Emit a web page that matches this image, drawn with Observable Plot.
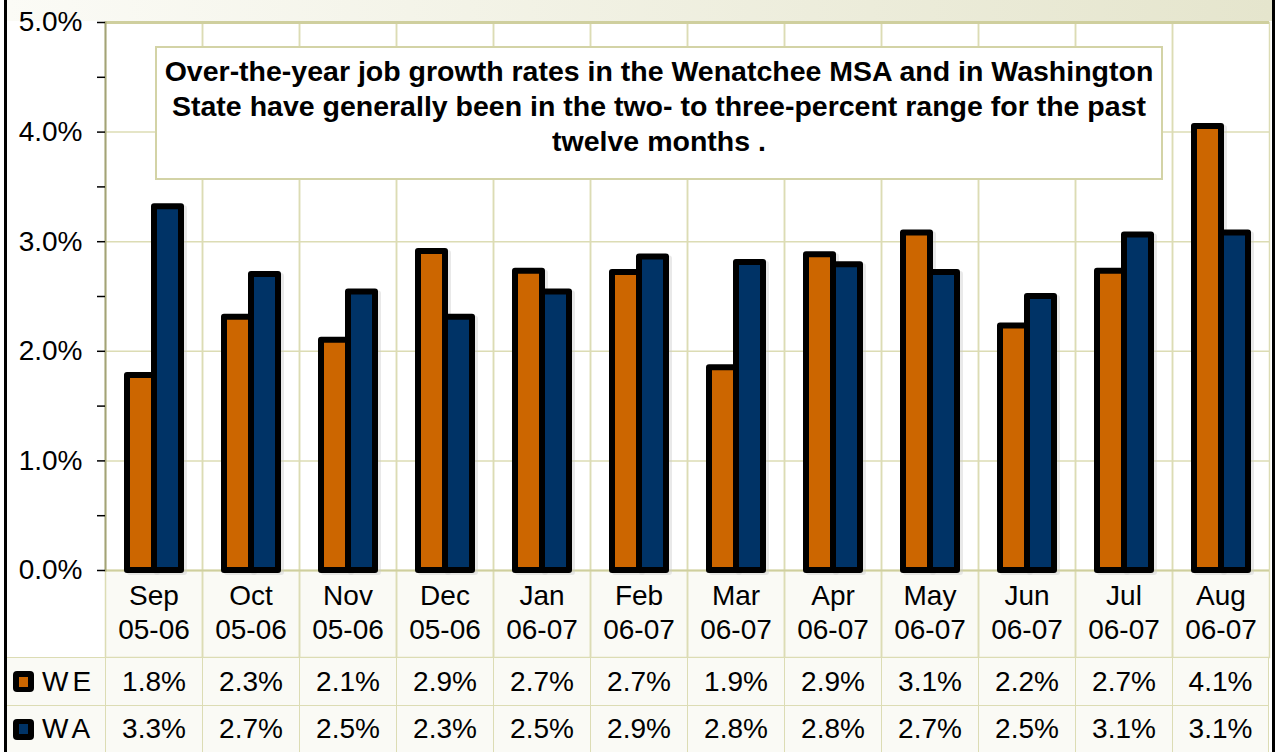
<!DOCTYPE html>
<html>
<head>
<meta charset="utf-8">
<script src="https://cdn.jsdelivr.net/npm/d3@7"></script>
<script src="https://cdn.jsdelivr.net/npm/@observablehq/plot@0.6"></script>
<style>
  body { margin: 0; background: white; }
  #wrap { position: relative; width: 1276px; height: 752px; background: white; overflow: hidden;
          font-family: "Liberation Sans", Arial, sans-serif; color: black; }
  #band { position: absolute; left: 7px; top: 0; width: 1265px; height: 21px;
          background: linear-gradient(to right, #fbfbf6, #e5e5cd); }
  #labelrow { position: absolute; left: 105px; top: 570px; width: 1164px; height: 87px; background: #fafaf5; }
  #chart { position: absolute; left: 0; top: 0; }
  #lborder { position: absolute; left: 4px; top: 0; width: 3px; height: 752px; background: black; }
  #rborder { position: absolute; left: 1272px; top: 0; width: 3px; height: 752px; background: black; }
  #note { position: absolute; left: 155px; top: 46px; width: 1004px; height: 130px;
          border: 2px solid #d3d3a6; background: white; box-sizing: content-box;
          font-weight: bold; font-size: 28.5px; line-height: 35px; text-align: center;
          padding-top: 0; }
  #note div { padding-top: 6px; }
  #table { position: absolute; left: 7px; top: 657px; display: grid;
           grid-template-columns: 98px repeat(12, 97px); grid-template-rows: 48px 47px; }
  #table > div { border-top: 1.5px solid #dcdcb4; border-left: 1.5px solid #dcdcb4; background: #fafaf5;
               display: flex; align-items: center; justify-content: center; font-size: 28px; box-sizing: border-box; }
  #table > div.lab { border-left: none; justify-content: flex-start; padding-left: 6px; letter-spacing: 4px; }
  #table > div.last { border-right: 1.5px solid #dcdcb4; }
  .key { width: 21px; height: 21px; background: black; border-radius: 4px; margin-right: 8px;
         display: flex; align-items: center; justify-content: center; flex: none; }
  .key span { width: 9px; height: 10px; display: block; }
</style>
</head>
<body>
<div id="wrap">
  <div id="band"></div>
  <div id="labelrow"></div>
  <div id="chart"></div>
  <div id="note"><div>Over-the-year job growth rates in the Wenatchee MSA and in Washington<br>State have generally been in the two- to three-percent range for the past<br>twelve months .</div></div>
  <div id="table"></div>
  <div id="lborder"></div>
  <div id="rborder"></div>
</div>
<script>
const months = ["Sep","Oct","Nov","Dec","Jan","Feb","Mar","Apr","May","Jun","Jul","Aug"];
const years  = ["05-06","05-06","05-06","05-06","06-07","06-07","06-07","06-07","06-07","06-07","06-07","06-07"];
const seriesNames = ["WE","WA"];
const seriesColors = ["#cc6600","#003366"];
const weValues = [1.78,2.31,2.10,2.91,2.73,2.72,1.85,2.88,3.08,2.23,2.73,4.05];
const waValues = [3.32,2.70,2.54,2.31,2.54,2.86,2.81,2.79,2.72,2.50,3.06,3.08];
const weLabels = ["1.8%","2.3%","2.1%","2.9%","2.7%","2.7%","1.9%","2.9%","3.1%","2.2%","2.7%","4.1%"];
const waLabels = ["3.3%","2.7%","2.5%","2.3%","2.5%","2.9%","2.8%","2.8%","2.7%","2.5%","3.1%","3.1%"];
const yMajor = [0,0.01,0.02,0.03,0.04,0.05];
const yMinor = [0.005,0.015,0.025,0.035,0.045];

const keys = months.map((m, i) => m + " " + years[i]);
const data = [];
months.forEach((m, i) => {
  data.push({key: keys[i], series: "WE", value: weValues[i] / 100});
  data.push({key: keys[i], series: "WA", value: waValues[i] / 100});
});

const grid = "#dcdcb4";
const chart = Plot.plot({
  width: 1276, height: 657,
  marginLeft: 105, marginRight: 7, marginTop: 22, marginBottom: 87,
  style: {background: "none", fontFamily: "Liberation Sans, Arial, sans-serif", fontSize: "28px", color: "black", overflow: "visible"},
  fx: {domain: keys, padding: 0, label: null},
  x: {domain: seriesNames, paddingOuter: 0.735, paddingInner: 0, axis: null},
  y: {domain: [0, 0.05], label: null, axis: null},
  color: {domain: seriesNames, range: seriesColors},
  marks: [
    Plot.gridY(yMajor, {stroke: grid, strokeOpacity: 1, strokeWidth: 1.5}),
    Plot.frame({stroke: grid, strokeWidth: 1.5, insetBottom: -87}),
    Plot.ruleY([0.05], {stroke: "#cfcf9e", strokeWidth: 3}),
    Plot.ruleY([0], {stroke: "#cfcf9e", strokeWidth: 2}),
    Plot.frame({anchor: "left", stroke: "#a3a377", strokeWidth: 2, facetAnchor: "left"}),
    Plot.axisY(yMajor, {anchor: "left", tickSize: 8, tickPadding: 15, tickFormat: d3.format(".1%"), fontSize: 28, stroke: "black", strokeWidth: 1.5}),
    Plot.axisY(yMinor, {anchor: "left", tickSize: 8, tickFormat: () => "", stroke: "black", strokeWidth: 1.5}),
    Plot.barY(data, {fx: "key", x: "series", y: "value", fill: "#c8c8c8", fillOpacity: 0.4, dx: 3, dy: 2, stroke: "#c8c8c8", strokeOpacity: 0.4, strokeWidth: 6, strokeLinejoin: "round"}),
    Plot.barY(data, {fx: "key", x: "series", y: "value", fill: "series", stroke: "black", strokeWidth: 6, strokeLinejoin: "round"}),
    Plot.axisFx({anchor: "bottom", tickSize: 0, tickPadding: 10, lineHeight: 1.22, fontSize: 28,
                 tickFormat: d => { const i = keys.indexOf(d); return months[i] + "\n" + years[i]; }})
  ]
});
document.getElementById("chart").appendChild(chart);

// data table (legend + values) below the chart
const table = document.getElementById("table");
[["WE", weLabels, seriesColors[0]], ["WA", waLabels, seriesColors[1]]].forEach(([name, labels, color]) => {
  const lab = document.createElement("div");
  lab.className = "lab";
  lab.innerHTML = `<div class="key"><span style="background:${color}"></span></div>${name}`;
  table.appendChild(lab);
  labels.forEach((t, i) => {
    const c = document.createElement("div");
    if (i === labels.length - 1) c.className = "last";
    c.textContent = t;
    table.appendChild(c);
  });
});
</script>
</body>
</html>
